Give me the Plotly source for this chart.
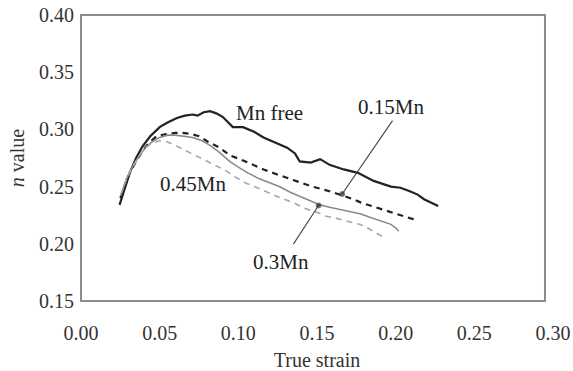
import plotly.graph_objects as go

# True strain vs. strain-hardening exponent n for four Mn contents
mn_free_x = [0.0245, 0.028, 0.031, 0.035, 0.039, 0.044, 0.050, 0.055, 0.061, 0.066, 0.071, 0.074,
             0.078, 0.082, 0.086, 0.090, 0.0965, 0.103, 0.110, 0.116, 0.123, 0.131, 0.136, 0.139,
             0.146, 0.152, 0.158, 0.167, 0.176, 0.186, 0.197, 0.203, 0.209, 0.214, 0.218, 0.223, 0.227]
mn_free_n = [0.234, 0.250, 0.262, 0.275, 0.285, 0.294, 0.302, 0.306, 0.310, 0.312, 0.313, 0.312,
             0.315, 0.316, 0.314, 0.311, 0.302, 0.302, 0.298, 0.293, 0.289, 0.284, 0.279, 0.272,
             0.271, 0.274, 0.269, 0.265, 0.262, 0.255, 0.250, 0.249, 0.246, 0.243, 0.239, 0.236, 0.233]

mn015_x = [0.025, 0.027, 0.031, 0.035, 0.039, 0.043, 0.048, 0.054, 0.060, 0.0645, 0.070, 0.075,
           0.081, 0.088, 0.095, 0.101, 0.108, 0.116, 0.126, 0.137, 0.147, 0.158, 0.165, 0.173,
           0.178, 0.185, 0.190, 0.198, 0.205, 0.210, 0.214]
mn015_n = [0.240, 0.248, 0.262, 0.272, 0.281, 0.288, 0.294, 0.296, 0.297, 0.297, 0.296, 0.294,
           0.289, 0.284, 0.277, 0.274, 0.270, 0.265, 0.260, 0.255, 0.250, 0.246, 0.243, 0.239,
           0.236, 0.233, 0.231, 0.227, 0.224, 0.222, 0.221]

mn03_x = [0.026, 0.029, 0.033, 0.037, 0.041, 0.045, 0.050, 0.055, 0.060, 0.066, 0.071, 0.077,
          0.082, 0.088, 0.0945, 0.100, 0.106, 0.113, 0.120, 0.126, 0.133, 0.140, 0.146, 0.152,
          0.158, 0.165, 0.171, 0.178, 0.184, 0.190, 0.197, 0.200, 0.202]
mn03_n = [0.245, 0.257, 0.268, 0.277, 0.284, 0.289, 0.293, 0.295, 0.295, 0.294, 0.293, 0.290,
          0.286, 0.280, 0.272, 0.267, 0.262, 0.257, 0.253, 0.250, 0.245, 0.241, 0.238, 0.234,
          0.232, 0.230, 0.228, 0.226, 0.223, 0.220, 0.217, 0.214, 0.211]

mn045_x = [0.025, 0.028, 0.032, 0.036, 0.040, 0.045, 0.050, 0.055, 0.060, 0.066, 0.072, 0.078,
           0.085, 0.092, 0.0985, 0.105, 0.112, 0.120, 0.127, 0.135, 0.142, 0.149, 0.156, 0.163,
           0.171, 0.177, 0.182, 0.187, 0.192]
mn045_n = [0.242, 0.254, 0.265, 0.275, 0.283, 0.288, 0.290, 0.289, 0.286, 0.282, 0.278, 0.274,
           0.269, 0.264, 0.258, 0.253, 0.249, 0.244, 0.240, 0.236, 0.231, 0.228, 0.224, 0.222,
           0.219, 0.217, 0.214, 0.210, 0.206]

x_ticks = [0.00, 0.05, 0.10, 0.15, 0.20, 0.25, 0.30]
y_ticks = [0.15, 0.20, 0.25, 0.30, 0.35, 0.40]

# Leader lines: (label end, point on curve)
leader_015 = ([0.198, 0.166], [0.3077, 0.2435])
leader_03 = ([0.135, 0.151], [0.1997, 0.2335])

FONT = "Liberation Serif, Times New Roman, serif"

fig = go.Figure()
fig.add_trace(go.Scatter(x=mn_free_x, y=mn_free_n, mode="lines",
                         line=dict(color="#222222", width=2.2)))
fig.add_trace(go.Scatter(x=mn015_x, y=mn015_n, mode="lines",
                         line=dict(color="#222222", width=2.2, dash="6px,5px")))
fig.add_trace(go.Scatter(x=mn03_x, y=mn03_n, mode="lines",
                         line=dict(color="#8a8a8a", width=1.6)))
fig.add_trace(go.Scatter(x=mn045_x, y=mn045_n, mode="lines",
                         line=dict(color="#a8a8a8", width=1.6, dash="6px,5px")))

for lx, ly in (leader_015, leader_03):
    fig.add_trace(go.Scatter(x=lx, y=ly, mode="lines+markers",
                             line=dict(color="#444444", width=1.1),
                             marker=dict(size=[0, 5], color="#222222")))

labels = [("Mn free", 0.120, 0.3146), ("0.15Mn", 0.197, 0.3200),
          ("0.45Mn", 0.071, 0.2520), ("0.3Mn", 0.127, 0.1840)]
for text, x, y in labels:
    fig.add_annotation(x=x, y=y, text=text, showarrow=False,
                       font=dict(family=FONT, size=21, color="#222222"))

# Plot frame (right edge sits slightly inside the 0.30 tick)
fig.add_shape(type="rect", xref="paper", yref="paper", x0=0, x1=0.983, y0=0, y1=1,
              line=dict(color="#8c8c8c", width=2))

fig.update_layout(
    width=573, height=371,
    margin=dict(l=81, r=20, t=15, b=70, autoexpand=False),
    paper_bgcolor="white", plot_bgcolor="white",
    showlegend=False,
    font=dict(family=FONT, size=20, color="#333333"),
)
fig.update_xaxes(range=[0, 0.3], tickvals=x_ticks, ticktext=[f"{v:.2f}" for v in x_ticks],
                 showgrid=False, zeroline=False, showline=False, ticks="",
                 ticklabelstandoff=18,
                 title=dict(text="True strain", font=dict(family=FONT, size=20), standoff=9),
                 tickfont=dict(family=FONT, size=20, color="#333333"))
fig.update_yaxes(range=[0.15, 0.40], tickvals=y_ticks, ticktext=[f"{v:.2f}" for v in y_ticks],
                 showgrid=False, zeroline=False, showline=False, ticks="",
                 ticklabelstandoff=6,
                 title=dict(text="<i>n</i> value", font=dict(family=FONT, size=20), standoff=9),
                 tickfont=dict(family=FONT, size=20, color="#333333"))

fig.write_html("out.html")
